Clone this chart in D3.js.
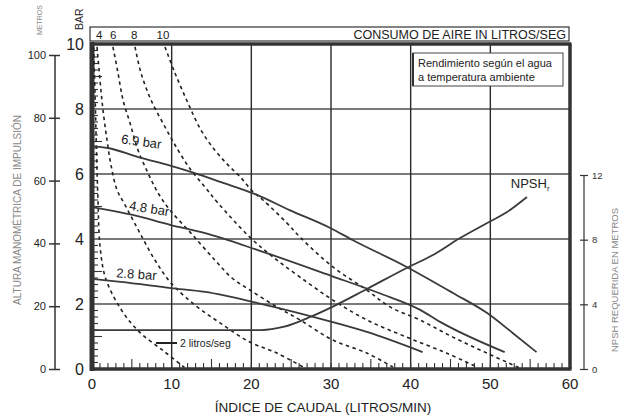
<!DOCTYPE html>
<html>
<head>
<meta charset="utf-8">
<script src="https://cdn.jsdelivr.net/npm/d3@7"></script>
<style>
  body { margin: 0; background: #fff; }
  svg { display: block; }
  text { font-family: "Liberation Sans Narrow", "Arial Narrow", "Liberation Sans", sans-serif; }
</style>
</head>
<body>
<svg id="chart" width="631" height="416"></svg>
<script>
// caudal (L/min) vs altura (bar)
const flowTicks = [0, 10, 20, 30, 40, 50, 60];
const barTicks = [0, 2, 4, 6, 8, 10];
const metreTicks = [0, 20, 40, 60, 80, 100];
const npshTicks = [0, 4, 8, 12];
const airLabels = ["4", "6", "8", "10"];
const airLabelFlow = [0.9, 2.65, 5.3, 8.9];

// curvas de presión de aire
const p69 = [[0, 6.86], [2, 6.8], [5.8, 6.52], [9.9, 6.25], [12.9, 6.03], [16.2, 5.75], [20.5, 5.38],
  [24.8, 4.89], [29.9, 4.34], [32.7, 3.97], [39.5, 3.14], [45.3, 2.34], [49.6, 1.72], [52.8, 1.11], [55.8, 0.52]];
const p48 = [[0, 4.98], [5.1, 4.74], [9.9, 4.43], [14.2, 4.18], [20.8, 3.66], [30.1, 2.86],
  [36.1, 2.33], [41.2, 1.82], [43.7, 1.45], [51.8, 0.52]];
const p28 = [[0, 2.77], [3.6, 2.68], [9.9, 2.49], [14.2, 2.37], [20.8, 2.03], [30.1, 1.45],
  [34.5, 1.14], [41.5, 0.52]];

// consumo de aire (litros/seg)
const air2 = [[0.2, 9.9], [0.4, 8.3], [0.55, 6.8], [0.75, 5.2], [1.0, 3.8], [1.7, 2.8], [3.6, 1.85],
  [5.9, 1.15], [9.0, 0.55], [11.6, 0.05]];
const air4 = [[0.63, 9.91], [1.0, 8.89], [1.38, 7.97], [1.88, 7.05], [2.38, 6.28], [3.14, 5.51],
  [4.14, 5.05], [6.02, 4.18], [7.9, 3.35], [9.91, 2.65], [12.9, 1.97], [16.06, 1.42], [19.8, 0.83],
  [23.2, 0.49], [26.5, 0.06]];
const air6 = [[2.63, 9.91], [3.26, 9.11], [3.89, 8.28], [4.77, 7.57], [5.77, 6.74], [7.03, 6.03],
  [8.28, 5.42], [9.79, 4.89], [12.42, 4.18], [15.43, 3.35], [17.57, 2.8], [19.82, 2.43], [23.2, 1.91],
  [26.1, 1.51], [30.24, 0.89], [34.5, 0.49], [37.77, 0.06]];
const air8 = [[5.4, 9.91], [6.15, 9.11], [7.4, 8.28], [9.16, 7.45], [10.79, 6.74], [12.42, 6.12],
  [14.18, 5.6], [15.8, 5.11], [19.8, 4.06], [22.7, 3.45], [26.1, 2.83], [30.24, 2.12], [34.5, 1.51],
  [39.5, 0.98], [44.5, 0.49], [48.3, 0.06]];
const air10 = [[9.16, 9.91], [10.41, 9.11], [12.05, 8.18], [13.68, 7.35], [15.4, 6.74], [17.06, 6.28],
  [18.6, 5.91], [20.1, 5.48], [21.46, 5.2], [24.47, 4.49], [26.1, 4.06], [30.24, 3.14], [34.5, 2.43],
  [37.4, 1.91], [41.15, 1.51], [45.3, 0.98], [49.56, 0.49], [53.7, 0.03]];

// NPSH requerida (m)
const npsh = [[0, 2.41], [21.3, 2.41], [24.0, 2.6], [27.4, 3.22], [30.1, 3.83], [34.5, 4.95],
  [39.5, 6.25], [42.8, 7.05], [46.2, 8.1], [49.6, 9.03], [52.1, 9.71], [54.6, 10.64]];

const noteLines = ["Rendimiento según el agua", "a temperatura ambiente"];

const svg = d3.select("#chart");
const ink = "#333";

const x = d3.scaleLinear().domain([0, 60]).range([92, 570]);
const y = d3.scaleLinear().domain([0, 10]).range([369, 44]);
const yM = d3.scaleLinear().domain([0, 100]).range([369, 55]);
const yN = d3.scaleLinear().domain([0, 12]).range([369, 175]);

// grid
svg.append("g")
  .selectAll("line")
  .data([2, 4, 6, 8])
  .join("line")
  .attr("x1", x(0)).attr("x2", x(60))
  .attr("y1", d => y(d)).attr("y2", d => y(d))
  .attr("stroke", "#7a7a7a").attr("stroke-width", 2);

svg.append("g")
  .selectAll("line")
  .data([10, 20, 30, 40, 50])
  .join("line")
  .attr("x1", d => x(d)).attr("x2", d => x(d))
  .attr("y1", y(10)).attr("y2", y(0))
  .attr("stroke", "#2a2a2a").attr("stroke-width", 1.4);

// minor ticks inside the frame
svg.append("g")
  .selectAll("line")
  .data(d3.range(1, 60))
  .join("line")
  .attr("x1", d => x(d)).attr("x2", d => x(d))
  .attr("y1", y(0)).attr("y2", d => y(0) - (d % 10 === 5 ? 10 : 6))
  .attr("stroke", ink).attr("stroke-width", 1.1);

svg.append("g")
  .selectAll("line")
  .data(d3.range(1, 50).map(i => i / 5).filter(v => v % 2 !== 0))
  .join("line")
  .attr("x1", x(0))
  .attr("x2", d => x(0) + (Math.abs(d - Math.round(d)) < 0.01 ? 10 : 6))
  .attr("y1", d => y(d)).attr("y2", d => y(d))
  .attr("stroke", ink).attr("stroke-width", 1.1);

// frame
svg.append("line").attr("x1", x(0)).attr("x2", x(0)).attr("y1", y(10) - 2).attr("y2", y(0) + 2)
  .attr("stroke", ink).attr("stroke-width", 5);
svg.append("line").attr("x1", x(0)).attr("x2", x(60) + 1.5).attr("y1", y(0)).attr("y2", y(0))
  .attr("stroke", ink).attr("stroke-width", 3.5);
svg.append("line").attr("x1", x(0)).attr("x2", x(60) + 1.5).attr("y1", y(10)).attr("y2", y(10))
  .attr("stroke", ink).attr("stroke-width", 3.5);
svg.append("line").attr("x1", x(60)).attr("x2", x(60)).attr("y1", y(10)).attr("y2", y(0))
  .attr("stroke", ink).attr("stroke-width", 3.5);

// top air-consumption box
svg.append("rect").attr("x", 90).attr("y", 27).attr("width", 479).attr("height", 14)
  .attr("fill", "#fff").attr("stroke", ink).attr("stroke-width", 1.2);
svg.append("g")
  .selectAll("text")
  .data(airLabels)
  .join("text")
  .attr("x", (d, i) => x(airLabelFlow[i]))
  .attr("y", 39)
  .attr("text-anchor", "middle")
  .attr("font-size", 11.5)
  .attr("fill", "#222")
  .text(d => d);
svg.append("text").attr("x", 566).attr("y", 39).attr("text-anchor", "end")
  .attr("font-family", "Liberation Sans, sans-serif")
  .attr("font-size", 12.5).attr("fill", "#222").text("CONSUMO DE AIRE IN LITROS/SEG");

// curves
const line = d3.line().x(d => x(d[0])).y(d => y(d[1])).curve(d3.curveMonotoneX);
const lineN = d3.line().x(d => x(d[0])).y(d => yN(d[1])).curve(d3.curveMonotoneX);
const lineAir = d3.line().x(d => x(d[0])).y(d => y(d[1])).curve(d3.curveCatmullRom);

svg.append("g")
  .selectAll("path")
  .data([air2, air4, air6, air8, air10])
  .join("path")
  .attr("d", lineAir)
  .attr("fill", "none")
  .attr("stroke", "#222")
  .attr("stroke-width", 1.6)
  .attr("stroke-dasharray", "3.5,3.5");

svg.append("g")
  .selectAll("path")
  .data([p69, p48, p28])
  .join("path")
  .attr("d", line)
  .attr("fill", "none")
  .attr("stroke", "#3a3a3a")
  .attr("stroke-width", 1.8);

svg.append("path").attr("d", lineN(npsh)).attr("fill", "none")
  .attr("stroke", "#3a3a3a").attr("stroke-width", 1.8);

// curve labels
const curveLabels = [["6.9 bar", 3.6, 6.95, 8], ["4.8 bar", 4.6, 4.9, 9], ["2.8 bar", 3.0, 2.82, 4]];
svg.append("g")
  .selectAll("text")
  .data(curveLabels)
  .join("text")
  .attr("transform", d => `translate(${x(d[1])},${y(d[2])}) rotate(${d[3]})`)
  .attr("font-size", 13)
  .attr("fill", "#222")
  .text(d => d[0]);

const npshLabel = svg.append("text").attr("x", x(55.0)).attr("y", yN(11.2))
  .attr("text-anchor", "middle").attr("font-size", 13).attr("fill", "#222");
npshLabel.append("tspan").text("NPSH");
npshLabel.append("tspan").attr("font-size", 8).attr("dy", 3).text("r");

// legend
svg.append("line").attr("x1", 156).attr("x2", 177).attr("y1", 343).attr("y2", 343)
  .attr("stroke", "#222").attr("stroke-width", 2);
svg.append("text").attr("x", 180).attr("y", 347).attr("font-family", "Liberation Sans, sans-serif")
  .attr("font-size", 10.5).attr("fill", "#222").text("2 litros/seg");

// note box
svg.append("rect").attr("x", 413).attr("y", 53).attr("width", 150).attr("height", 33)
  .attr("fill", "#fff").attr("stroke", "#444").attr("stroke-width", 1);
svg.append("line").attr("x1", 413).attr("x2", 413).attr("y1", 53).attr("y2", 86)
  .attr("stroke", "#333").attr("stroke-width", 2);
svg.append("g")
  .selectAll("text")
  .data(noteLines)
  .join("text")
  .attr("x", 418)
  .attr("y", (d, i) => 67 + i * 14)
  .attr("font-family", "Liberation Sans, sans-serif")
  .attr("font-size", 11)
  .attr("fill", "#222")
  .text(d => d);

// bar axis labels
svg.append("g")
  .selectAll("text")
  .data(barTicks)
  .join("text")
  .attr("x", 84)
  .attr("y", d => y(d) + 6)
  .attr("text-anchor", "end")
  .attr("font-size", 16)
  .attr("fill", "#222")
  .text(d => d);
svg.append("text").attr("transform", "translate(83,30) rotate(-90)")
  .attr("font-size", 10.5).attr("fill", "#222").text("BAR");
svg.append("text").attr("transform", "translate(42,35) rotate(-90)")
  .attr("font-size", 7).attr("fill", "#888").text("METROS");

// flow axis labels
svg.append("g")
  .selectAll("text")
  .data(flowTicks)
  .join("text")
  .attr("x", d => x(d))
  .attr("y", 389)
  .attr("text-anchor", "middle")
  .attr("font-size", 15)
  .attr("fill", "#222")
  .text(d => d);
svg.append("text").attr("x", 323).attr("y", 412).attr("text-anchor", "middle")
  .attr("font-family", "Liberation Sans, sans-serif")
  .attr("font-size", 13.5).attr("fill", "#222").text("ÍNDICE DE CAUDAL (LITROS/MIN)");

// metres axis
const axM = svg.append("g").attr("transform", "translate(55,0)")
  .call(d3.axisLeft(yM).tickValues(metreTicks).tickSize(6).tickPadding(3));
axM.selectAll(".tick line").attr("x2", 5).attr("x1", -6).attr("stroke", "#333").attr("stroke-width", 1.5);
axM.select(".domain").attr("d", `M0,${yM(100)}V${yM(0)}`).attr("stroke", "#333").attr("stroke-width", 1.5);
axM.selectAll("text").attr("font-size", 11).attr("fill", "#222")
  .attr("font-family", "Liberation Sans Narrow, sans-serif");
svg.append("text").attr("transform", `translate(21,${yM(50) - 2}) rotate(-90)`)
  .attr("text-anchor", "middle").attr("font-size", 10).attr("fill", "#888")
  .attr("font-family", "Liberation Sans, sans-serif")
  .text("ALTURA MANOMÉTRICA DE IMPULSIÓN");

// NPSH axis
const axN = svg.append("g").attr("transform", "translate(584,0)")
  .call(d3.axisRight(yN).tickValues(npshTicks).tickSize(4).tickPadding(4));
axN.selectAll(".tick line").attr("x1", -4).attr("stroke", "#333").attr("stroke-width", 1.2);
axN.select(".domain").attr("d", `M0,${yN(12)}V${yN(0)}`).attr("stroke", "#333").attr("stroke-width", 1.2);
axN.selectAll("text").attr("font-size", 9.5).attr("fill", "#333")
  .attr("font-family", "Liberation Sans Narrow, sans-serif");
svg.append("text").attr("transform", `translate(618,${yN(6) + 8}) rotate(-90)`)
  .attr("text-anchor", "middle").attr("font-size", 9.5).attr("fill", "#888")
  .attr("font-family", "Liberation Sans, sans-serif")
  .text("NPSH REQUERIDA EN METROS");
</script>
</body>
</html>
